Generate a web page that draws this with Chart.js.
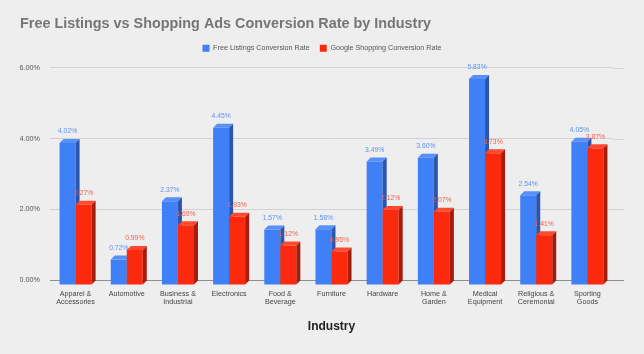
<!DOCTYPE html>
<html>
<head>
<meta charset="utf-8">
<script src="https://cdn.jsdelivr.net/npm/chart.js@4.4.0/dist/chart.umd.min.js"></script>
<style>
  html, body { margin: 0; padding: 0; background: #eeeeee; }
  #wrap { width: 644px; height: 354px; }
</style>
</head>
<body>
<div id="wrap"><canvas id="chart" width="644" height="354"></canvas></div>
<script>
// Data
const industries = [
    ['Apparel &', 'Accessories'], 'Automotive', ['Business &', 'Industrial'], 'Electronics',
    ['Food &', 'Beverage'], 'Furniture', 'Hardware', ['Home &', 'Garden'],
    ['Medical', 'Equipment'], ['Religious &', 'Ceremonial'], ['Sporting', 'Goods']
];
const freeListings = [4.02, 0.72, 2.37, 4.45, 1.57, 1.58, 3.49, 3.60, 5.83, 2.54, 4.05];
const shoppingAds  = [2.27, 0.99, 1.69, 1.93, 1.12, 0.95, 2.12, 2.07, 3.73, 1.41, 3.87];
const yTicks = [0, 2, 4, 6];
const yAxisTop = 6.17;   // a little headroom above the 6.00% line

const FONT = "'Liberation Sans', Arial, sans-serif";
const DEPTH = 4;   // 3D offset of top / side faces
const DROP = 5;    // front faces sit a bit below the axis line

const faces = [
    { side: '#2c56ae', top: '#5690f8', label: '#5b93f6' },
    { side: '#a81c0c', top: '#ff4a2e', label: '#f0604f' }
];

// fake 3D look: bars drawn in dataset order, each with a top and right face
const bar3d = {
    id: 'bar3d',
    beforeDatasetsDraw(chart) {
        // grid lines run a little further right than the plot area
        const ctx = chart.ctx;
        const y = chart.scales.y;
        ctx.save();
        y.ticks.forEach(t => {
            const py = Math.round(y.getPixelForValue(t.value)) + 0.5;
            ctx.strokeStyle = t.value === 0 ? '#8f8f8f' : '#d2d2d2';
            ctx.lineWidth = 1;
            ctx.beginPath();
            ctx.moveTo(chart.chartArea.right, py);
            ctx.lineTo(chart.chartArea.right + 11, py);
            ctx.stroke();
        });
        ctx.restore();
    },
    beforeDatasetDraw() {
        return false; // drawn below, blue first so red covers its side face
    },
    afterDatasetsDraw(chart) {
        const ctx = chart.ctx;
        chart.data.datasets.forEach((ds, i) => {
            const meta = chart.getDatasetMeta(i);
            const c = faces[i];
            ctx.save();
            ctx.translate(0, DROP);
            meta.controller.draw();
            meta.data.forEach(bar => {
                const l = bar.x - bar.width / 2, r = bar.x + bar.width / 2;
                const t = bar.y, b = bar.base;
                ctx.fillStyle = c.top;
                ctx.beginPath();
                ctx.moveTo(l, t); ctx.lineTo(l + DEPTH, t - DEPTH);
                ctx.lineTo(r + DEPTH, t - DEPTH); ctx.lineTo(r, t);
                ctx.closePath(); ctx.fill();
                ctx.fillStyle = c.side;
                ctx.beginPath();
                ctx.moveTo(r, t); ctx.lineTo(r + DEPTH, t - DEPTH);
                ctx.lineTo(r + DEPTH, b - DEPTH); ctx.lineTo(r, b);
                ctx.closePath(); ctx.fill();
            });
            ctx.restore();
        });

        // value labels above the bars
        ctx.save();
        ctx.font = '6.8px ' + FONT;
        ctx.textAlign = 'center';
        ctx.textBaseline = 'middle';
        chart.data.datasets.forEach((ds, i) => {
            chart.getDatasetMeta(i).data.forEach((bar, j) => {
                ctx.fillStyle = faces[i].label;
                ctx.fillText(ds.data[j].toFixed(2) + '%', bar.x, bar.y - 6.5);
            });
        });
        ctx.restore();
    }
};

new Chart(document.getElementById('chart'), {
    type: 'bar',
    data: {
        labels: industries,
        datasets: [
            { label: 'Free Listings Conversion Rate', data: freeListings, backgroundColor: '#3f80f6' },
            { label: 'Google Shopping Conversion Rate', data: shoppingAds, backgroundColor: '#fb2a0f' }
        ]
    },
    options: {
        responsive: false,
        animation: false,
        devicePixelRatio: 1,
        categoryPercentage: 0.626,
        barPercentage: 1,
        layout: { padding: { left: 20, right: 20, top: 0, bottom: 0 } },
        plugins: {
            title: {
                display: true,
                text: 'Free Listings vs Shopping Ads Conversion Rate by Industry',
                align: 'start',
                color: '#757575',
                font: { family: FONT, size: 14.4, weight: 'bold' },
                padding: { top: 15.4, bottom: 2 }
            },
            legend: {
                display: true,
                labels: {
                    boxWidth: 7,
                    boxHeight: 7,
                    padding: 10,
                    color: '#555555',
                    font: { family: FONT, size: 7.2 }
                }
            },
            tooltip: { enabled: false }
        },
        scales: {
            x: {
                grid: { display: false, drawTicks: false },
                border: { display: false },
                ticks: {
                    color: '#444444',
                    padding: 9.5,
                    maxRotation: 0,
                    autoSkip: false,
                    font: { family: FONT, size: 7.2, lineHeight: 1.15 }
                },
                title: {
                    display: true,
                    text: 'Industry',
                    color: '#222222',
                    font: { family: FONT, size: 12, weight: 'bold' },
                    padding: { top: 0, bottom: 20 }
                },
                afterFit: s => { s.height = 74; }
            },
            y: {
                min: 0,
                max: yAxisTop,
                grid: {
                    drawTicks: false,
                    color: ctx => ctx.tick && ctx.tick.value === 0 ? '#8f8f8f' : '#d2d2d2'
                },
                border: { display: false },
                ticks: {
                    padding: 10,
                    color: '#555555',
                    font: { family: FONT, size: 7.2 },
                    callback: v => v.toFixed(2) + '%'
                },
                afterBuildTicks: s => { s.ticks = yTicks.map(v => ({ value: v })); },
                afterFit: s => { s.width = 30; }
            },
            yRight: {
                position: 'right',
                min: 0,
                max: yAxisTop,
                grid: { display: false, drawTicks: false },
                border: { display: false },
                ticks: { display: false },
                afterFit: s => { s.width = 11; }
            }
        }
    },
    plugins: [bar3d]
});
</script>
</body>
</html>
